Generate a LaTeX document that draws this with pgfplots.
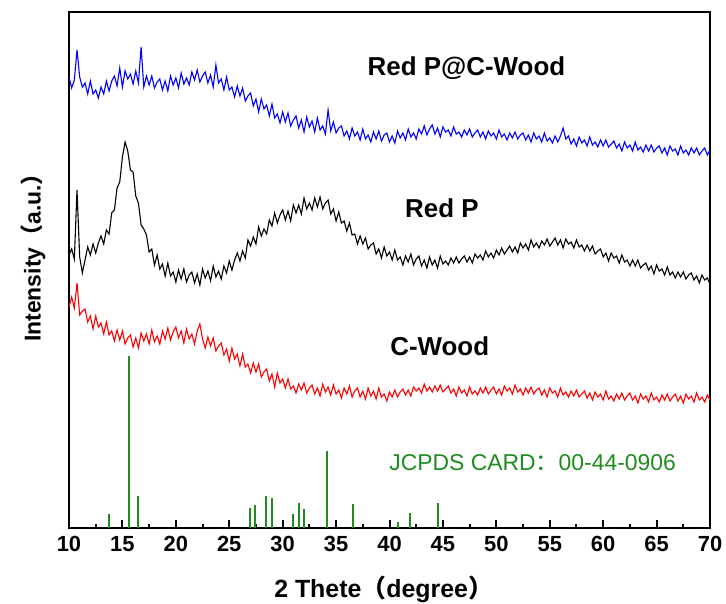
\documentclass[border=0pt]{standalone}
\usepackage{fontspec}
\setmainfont{Liberation Sans}
\newfontfamily\cjk{Noto Sans CJK SC}
\usepackage{pgfplots}
\usepackage{pgfplotstable}
\pgfplotsset{compat=1.18}
\definecolor{cardgreen}{RGB}{30,140,30}

% columns: 2theta, Red P@C-Wood, Red P, C-Wood (intensities shifted for stacking)
\pgfplotstableread{
x b k r
10.00 451 273 221
10.25 440 279 231
10.50 448 269 220
10.75 478 338 245
11.00 451 271 213
11.25 441 255 217
11.50 445 268 219
11.75 434 281 206
12.00 447 273 212
12.25 434 284 199
12.50 438 275 212
12.75 430 285 201
13.00 441 292 205
13.25 434 284 194
13.50 447 298 206
13.75 437 294 193
14.00 447 315 197
14.25 452 318 187
14.50 442 340 198
14.75 460 346 188
15.00 441 371 197
15.25 457 386 184
15.50 449 377 190
15.75 454 358 193
16.00 444 356 181
16.25 457 332 190
16.50 445 325 180
16.75 481 303 195
17.00 441 299 187
17.25 452 293 194
17.50 443 276 184
17.75 452 279 198
18.00 440 263 186
18.25 446 273 192
18.50 449 259 184
18.75 438 264 197
19.00 447 252 189
19.25 437 265 200
19.50 452 252 188
19.75 443 256 196
20.00 450 246 201
20.25 440 258 190
20.50 455 249 197
20.75 444 259 185
21.00 450 246 199
21.25 443 253 189
21.50 456 256 194
21.75 448 245 184
22.00 458 254 197
22.25 446 243 204
22.50 452 259 189
22.75 456 250 180
23.00 445 257 191
23.25 453 247 182
23.50 441 262 190
23.75 463 251 177
24.00 445 257 182
24.25 449 249 185
24.50 438 262 173
24.75 451 255 179
25.00 438 267 167
25.25 441 258 180
25.50 431 268 169
25.75 442 275 174
26.00 432 267 162
26.25 440 277 174
26.50 427 270 161
26.75 432 288 164
27.00 435 282 155
27.25 422 291 165
27.50 429 284 156
27.75 416 301 164
28.00 429 292 151
28.25 419 299 156
28.50 423 294 159
28.75 412 308 147
29.00 424 302 154
29.25 410 315 141
29.50 414 305 155
29.75 405 313 145
30.00 416 318 149
30.25 406 308 140
30.50 415 317 149
30.75 402 307 139
31.00 408 323 142
31.25 412 315 135
31.50 400 323 144
31.75 408 314 138
32.00 396 330 145
32.25 411 319 135
32.50 401 325 140
32.75 407 318 143
33.00 396 330 134
33.25 410 321 140
33.50 398 331 132
33.75 402 319 144
34.00 394 325 136
34.25 418 328 141
34.50 397 314 133
34.75 406 319 143
35.00 395 307 134
35.25 400 316 138
35.50 402 305 130
35.75 392 307 140
36.00 397 297 134
36.25 389 305 142
36.50 400 293 131
36.75 392 294 137
37.00 396 284 140
37.25 388 292 131
37.50 399 284 137
37.75 389 290 129
38.00 393 279 140
38.25 386 283 132
38.50 396 285 137
38.75 389 274 129
39.00 397 279 140
39.25 387 270 131
39.50 393 281 134
39.75 395 272 127
40.00 386 276 136
40.25 392 268 131
40.50 385 278 138
40.75 397 268 131
41.00 390 271 136
41.25 395 263 139
41.50 388 272 133
41.75 399 266 138
42.00 391 274 132
42.25 395 263 141
42.50 389 269 137
42.75 399 272 140
43.00 394 262 135
43.25 402 268 144
43.50 393 260 137
43.75 399 271 141
44.00 403 263 136
44.25 394 268 142
44.50 400 260 137
44.75 391 272 143
45.00 401 264 136
45.25 396 267 139
45.50 398 263 142
45.75 392 270 135
46.00 401 265 139
46.25 394 271 132
46.50 396 265 141
46.75 391 269 135
47.00 398 272 138
47.25 393 266 132
47.50 399 271 141
47.75 391 265 134
48.00 395 274 137
48.25 398 270 133
48.50 391 273 140
48.75 396 268 135
49.00 389 277 141
49.25 397 271 134
49.50 392 275 138
49.75 395 270 141
50.00 389 278 134
50.25 398 273 139
50.50 391 280 133
50.75 394 274 142
51.00 388 278 137
51.25 395 282 140
51.50 390 276 134
51.75 396 281 143
52.00 389 275 136
52.25 393 285 139
52.50 395 280 133
52.75 388 284 140
53.00 393 278 135
53.25 386 288 141
53.50 395 281 134
53.75 389 285 138
54.00 392 280 140
54.25 386 287 133
54.50 395 283 138
54.75 387 289 131
55.00 390 282 140
55.25 385 286 135
55.50 392 290 137
55.75 386 283 131
56.00 392 288 140
56.25 400 280 133
56.50 389 289 136
56.75 392 284 131
57.00 384 286 137
57.25 389 280 132
57.50 382 288 138
57.75 391 281 131
58.00 385 283 134
58.25 388 277 137
58.50 382 283 130
58.75 391 277 135
59.00 383 282 128
59.25 386 274 136
59.50 381 277 131
59.75 388 279 134
60.00 382 271 128
60.25 388 275 137
60.50 381 267 129
60.75 384 275 132
61.00 387 270 127
61.25 380 272 134
61.50 384 265 129
61.75 377 273 135
62.00 386 266 128
62.25 380 268 132
62.50 383 262 135
62.75 377 268 128
63.00 386 262 132
63.25 378 268 125
63.50 381 260 134
63.75 376 263 129
64.00 383 265 132
64.25 377 258 126
64.50 383 262 135
64.75 376 254 128
65.00 380 263 131
65.25 382 257 126
65.50 375 259 133
65.75 380 253 128
66.00 373 261 134
66.25 382 253 127
66.50 377 256 131
66.75 379 250 134
67.00 373 256 127
67.25 382 251 132
67.50 375 256 125
67.75 378 249 134
68.00 373 253 129
68.25 380 255 132
68.50 375 248 126
68.75 380 252 135
69.00 373 245 128
69.25 377 253 131
69.50 380 248 126
69.75 373 250 133
70.00 378 244 128
}\xrd

\begin{document}
\begin{tikzpicture}
\begin{axis}[
    scale only axis,
    width=641bp, height=516bp,
    xmin=10, xmax=70, ymin=0, ymax=516,
    axis line style={line width=2.4bp},
    xtick={10,15,...,70},
    minor x tick num=1,
    xtick pos=bottom,
    xtick align=inside,
    ytick=\empty,
    major tick length=8bp,
    minor tick length=4bp,
    every tick/.style={black, line width=2bp},
    /pgf/number format/assume math mode=true,
    xticklabel style={font=\bfseries\fontsize{22}{22}\selectfont, yshift=-5bp},
    clip=false,
]
\addplot[blue, line width=1.1bp] table[x=x, y=b] {\xrd};
\addplot[black, line width=1.1bp] table[x=x, y=k] {\xrd};
\addplot[red, line width=1.1bp] table[x=x, y=r] {\xrd};

% JCPDS reference lines
\addplot[cardgreen, line width=2bp, ycomb, no markers] coordinates {
    (13.72,14) (15.62,172) (16.43,32) (26.92,20) (27.45,23)
    (28.45,32) (29.04,30) (31.00,14) (31.54,25) (31.97,19)
    (34.16,77) (36.60,24) (40.83,6) (41.93,15) (44.58,25)
};

\node[font=\bfseries\fontsize{26}{26}\selectfont] at (axis cs:47.2,460) {Red P@C-Wood};
\node[font=\bfseries\fontsize{26}{26}\selectfont] at (axis cs:44.9,320) {Red P};
\node[font=\bfseries\fontsize{26}{26}\selectfont] at (axis cs:44.7,182) {C-Wood};
\node[font=\fontsize{23}{23}\selectfont, text=cardgreen] at (axis cs:53.4,65) {JCPDS CARD{\cjk ：}00-44-0906};

\node[font=\bfseries\fontsize{25}{25}\selectfont, anchor=base] at (axis cs:39.45,-69) {2 Thete{\cjk （}degree{\cjk ）}};
\node[font=\bfseries\fontsize{23}{23}\selectfont, rotate=90] at (axis cs:6.63,276) {Intensity{\cjk （}a.u.{\cjk ）}};
\end{axis}
\pgfresetboundingbox
\path[use as bounding box] ([shift={(-69bp,-75bp)}]current axis.south west) rectangle ([shift={(16bp,12bp)}]current axis.north east);
\end{tikzpicture}
\end{document}
